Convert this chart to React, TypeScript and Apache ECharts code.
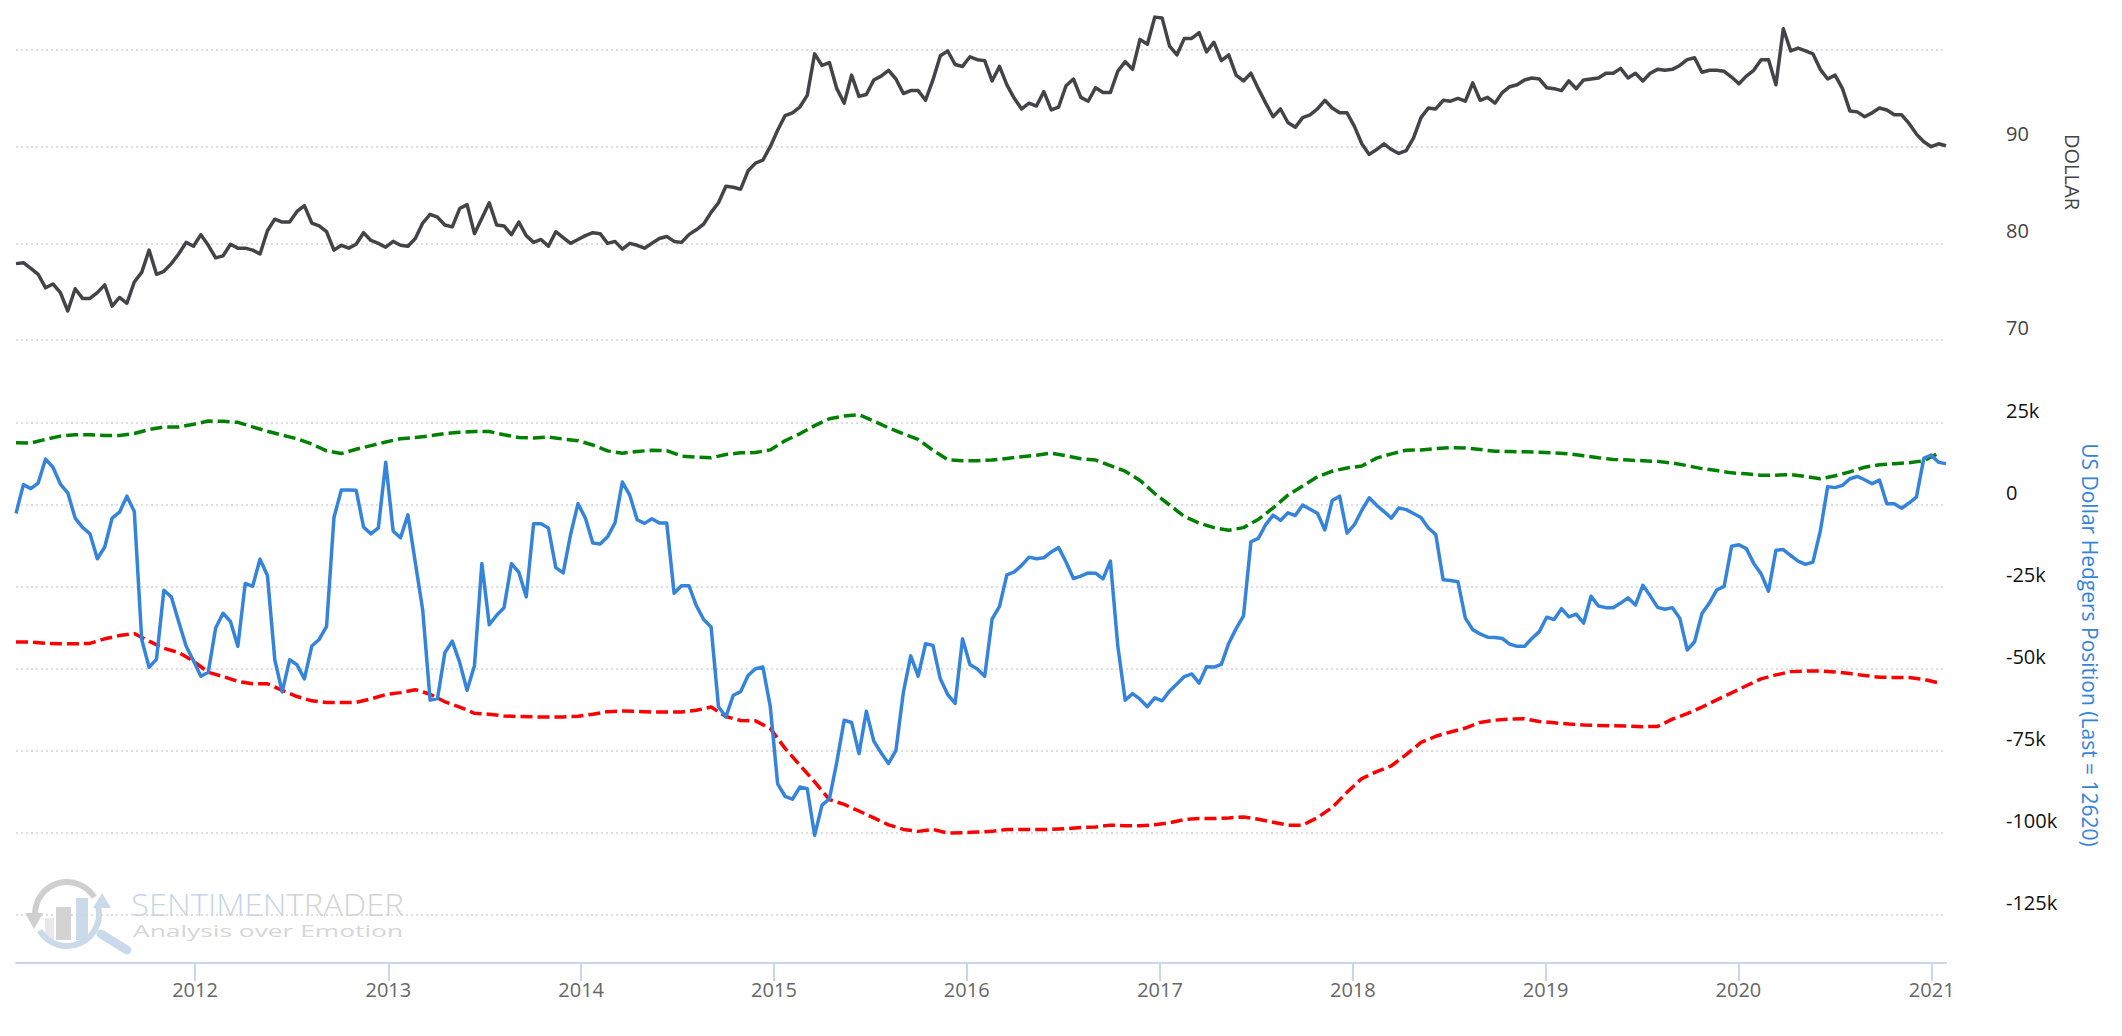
import React, { useEffect, useRef } from 'react'
import * as echarts from 'echarts'

// samples, first point on 27 Jan 2011
const START = Date.UTC(2011, 0, 27)
const DAY = 86400000
const STEP = 14 * DAY // dollar + hedgers: every two weeks
const BAND_STEP = 28 * DAY // the two dashed bands: every four weeks

const YEARS = [2012, 2013, 2014, 2015, 2016, 2017, 2018, 2019, 2020, 2021]

const DOLLAR = [
  77.9, 78.0, 77.4, 76.8, 75.4, 75.8, 74.9, 73.0, 75.3, 74.3,
  74.3, 74.9, 75.7, 73.5, 74.4, 73.8, 76.0, 77.0, 79.3, 76.8,
  77.1, 77.9, 78.9, 80.1, 79.7, 80.9, 79.8, 78.5, 78.7, 79.9,
  79.5, 79.5, 79.3, 78.9, 81.3, 82.5, 82.2, 82.2, 83.3, 83.9,
  82.1, 81.8, 81.2, 79.3, 79.8, 79.5, 79.9, 81.1, 80.3, 80.0,
  79.6, 80.2, 79.8, 79.7, 80.5, 82.1, 83.0, 82.7, 81.9, 81.7,
  83.6, 84.0, 81.0, 82.6, 84.2, 81.9, 81.8, 80.9, 82.2, 80.8,
  80.1, 80.4, 79.7, 81.2, 80.6, 80.0, 80.4, 80.8, 81.1, 81.0,
  80.0, 80.2, 79.4, 80.0, 79.8, 79.5, 80.0, 80.5,
  80.7, 80.2, 80.1, 80.9, 81.4, 82.0, 83.2, 84.2, 85.9, 85.8,
  85.6, 87.5, 88.3, 88.6, 90.0, 91.7, 93.2, 93.5, 94.1, 95.3,
  99.6, 98.4, 98.7, 96.0, 94.5, 97.4, 95.2, 95.4, 96.9, 97.3,
  97.9, 97.0, 95.5, 95.8, 95.8, 94.8, 96.9, 99.4, 99.9, 98.5,
  98.3, 99.3, 99.0, 98.9, 96.8, 98.3, 96.4, 95.0, 93.9, 94.5,
  94.2, 95.7, 93.8, 94.1, 96.3, 97.0, 95.1, 94.7, 96.1, 95.6,
  95.6, 97.8, 98.8, 98.0, 101.1, 100.6, 103.4, 103.3, 100.4, 99.5,
  101.2, 101.2, 101.8, 99.8, 100.8, 98.9, 99.5, 97.4, 96.8, 97.6,
  96.0, 94.5, 93.1, 93.9, 92.5, 92.0,
  93.0, 93.3, 93.9, 94.8, 94.0, 93.5, 93.5, 92.1, 90.3, 89.2,
  89.7, 90.3, 89.7, 89.3, 89.6, 90.9, 93.0, 94.0, 93.9, 94.8,
  94.7, 95.0, 94.7, 96.6, 94.8, 95.1, 94.5, 95.6, 96.2, 96.4,
  96.9, 97.1, 97.0, 96.1, 96.0, 95.8, 96.8, 96.0, 96.9, 97.0,
  97.1, 97.6, 97.6, 98.1, 97.1, 97.6, 96.8, 97.6, 98.0, 97.9,
  98.0, 98.4, 99.0, 99.2, 97.7, 97.9, 97.9, 97.8, 97.2, 96.5,
  97.3, 97.9, 99.0, 99.0, 96.4, 102.2, 99.9, 100.2, 99.9, 99.6,
  98.0, 97.0, 97.4, 96.0, 93.7, 93.6, 93.1, 93.5, 94.0, 93.8,
  93.3, 93.3, 92.4, 91.3, 90.5, 90.0, 90.3, 90.1,
]

// hedgers net position, thousands of contracts
const HEDGERS = [
  -2.6, 6.2, 5.0, 6.7, 14.0, 11.5, 6.4, 3.7, -4.0, -6.8,
  -8.8, -16.4, -12.8, -4.0, -2.2, 2.7, -2.0, -41.0, -49.5, -47.0,
  -26.0, -28.0, -35.6, -43.0, -47.5, -52.2, -51.0, -37.5, -33.0, -35.5,
  -43.1, -23.9, -24.8, -16.5, -21.5, -47.2, -57.0, -47.2, -48.7, -53.0,
  -43.0, -41.0, -37.0, -3.8, 4.6, 4.6, 4.5, -6.7, -8.8, -7.0,
  13.0, -7.9, -10.0, -3.0, -17.5, -32.0, -59.5, -59.0, -45.0, -41.5,
  -48.0, -56.5, -49.0, -17.8, -36.5, -33.6, -31.3, -17.9, -20.5, -28.0,
  -5.7, -5.7, -7.0, -19.1, -20.7, -9.0, 0.4, -4.0, -11.6, -11.9,
  -9.7, -5.5, 7.0, 3.0, -4.5, -5.6, -4.2, -5.5,
  -5.5, -26.9, -24.6, -24.6, -30.7, -34.9, -37.2, -61.5, -64.6, -58.0,
  -56.9, -52.0, -49.9, -49.4, -61.4, -85.0, -88.8, -89.7, -86.0, -86.5,
  -100.7, -91.5, -89.6, -78.4, -65.6, -66.3, -75.8, -62.9, -72.0, -75.6,
  -78.8, -74.8, -57.1, -46.0, -52.2, -42.3, -42.8, -53.0, -57.8, -60.5,
  -40.8, -48.6, -50.0, -52.2, -34.8, -30.9, -21.3, -20.4, -18.4, -15.9,
  -16.4, -16.1, -14.3, -13.0, -17.4, -22.4, -21.7, -20.7, -20.8, -22.5,
  -17.1, -43.0, -59.5, -57.5, -59.2, -61.5, -58.8, -59.7, -56.7, -54.6,
  -52.3, -51.5, -54.3, -49.3, -49.4, -48.6, -42.2, -37.7, -33.8, -11.2,
  -10.2, -6.0, -3.1, -4.7, -2.4, -3.2,
  0.0, -1.3, -2.5, -7.6, 1.4, 2.7, -8.6, -6.0, -1.6, 2.2,
  -0.1, -2.0, -4.0, -0.9, -1.4, -2.6, -3.8, -7.0, -9.0, -22.8,
  -23.0, -23.4, -34.5, -38.0, -39.3, -40.3, -40.4, -40.7, -42.4, -43.1,
  -43.1, -40.7, -38.6, -34.2, -34.9, -31.6, -34.1, -33.3, -36.0, -27.8,
  -30.8, -31.3, -31.3, -29.9, -28.3, -30.5, -24.5, -27.7, -31.2, -31.8,
  -31.3, -34.5, -44.2, -41.7, -33.1, -29.9, -25.9, -24.8, -12.6, -12.1,
  -13.3, -17.8, -21.0, -26.3, -13.8, -13.6, -15.4, -17.1, -18.1, -17.4,
  -8.0, 5.6, 5.3, 6.0, 8.0, 8.7, 7.7, 6.5, 7.6, 0.4,
  0.4, -1.0, 0.6, 2.4, 14.2, 15.2, 13.0, 12.62,
]

const UPPER_BAND = [
  19.0, 18.9, 20.0, 21.0, 21.4, 21.4, 21.2, 21.2, 21.8, 23.0,
  23.8, 23.8, 24.6, 25.6, 25.5, 25.2, 23.8, 22.5, 21.3, 20.2,
  18.6, 16.5, 15.7, 17.0, 18.1, 19.2, 20.2, 20.6, 21.1, 21.8,
  22.2, 22.4, 22.4, 21.4, 20.6, 20.4, 20.7, 20.1, 19.6, 18.3,
  16.5, 15.8, 16.3, 16.7,
  16.6, 14.9, 14.6, 14.4, 15.4, 15.9, 16.0, 16.8, 19.6, 21.7,
  24.2, 26.3, 27.1, 27.5, 25.6, 23.5, 21.7, 20.0, 16.7, 13.8,
  13.5, 13.5, 13.7, 14.2, 14.7, 15.2, 15.8, 15.0, 14.1, 13.7,
  12.0, 10.3, 7.5, 3.5, 0.0, -3.5, -5.5, -6.9, -7.7, -6.9,
  -4.4, -0.9, 3.0,
  5.8, 8.6, 10.3, 11.3, 11.9, 14.3, 15.6, 16.7, 16.8, 17.2,
  17.5, 17.4, 16.9, 16.4, 16.3, 16.2, 16.1, 15.9, 15.6, 15.0,
  14.4, 13.9, 13.7, 13.5, 13.3, 12.8, 12.0, 11.1, 10.5, 9.8,
  9.5, 9.1, 9.1, 9.3, 8.7, 8.0, 8.9, 10.1, 11.5, 12.3,
  12.6, 12.9, 13.5, 15.8,
]

const LOWER_BAND = [
  -41.8, -41.8, -42.2, -42.3, -42.3, -42.2, -40.8, -39.8, -39.2, -41.5,
  -43.7, -45.0, -47.6, -51.0, -52.3, -53.8, -54.5, -54.5, -56.5, -58.4,
  -59.7, -60.2, -60.2, -60.2, -59.1, -57.8, -57.2, -56.3, -57.7, -60.0,
  -61.6, -63.5, -63.8, -64.3, -64.5, -64.6, -64.6, -64.6, -64.4, -63.8,
  -63.0, -62.8, -62.9, -63.1,
  -63.1, -63.1, -62.6, -61.6, -64.5, -65.7, -65.8, -68.1, -74.2, -79.3,
  -84.4, -89.8, -91.3, -93.3, -95.4, -97.5, -98.9, -99.5, -98.9, -100.0,
  -99.9, -99.7, -99.5, -98.9, -98.9, -98.9, -98.9, -98.7, -98.3, -98.2,
  -97.6, -97.8, -97.8, -97.5, -96.9, -95.9, -95.6, -95.6, -95.4, -95.1,
  -95.8, -96.7, -97.6,
  -97.6, -95.3, -92.2, -87.6, -83.4, -81.3, -79.5, -76.1, -72.4, -70.5,
  -69.2, -68.0, -66.3, -65.6, -65.3, -65.2, -66.0, -66.4, -66.8, -67.1,
  -67.2, -67.3, -67.4, -67.6, -67.5, -65.3, -63.6, -61.6, -59.4, -57.3,
  -55.1, -53.0, -51.8, -50.8, -50.6, -50.6, -50.9, -51.4, -52.0, -52.5,
  -52.6, -52.6, -53.2, -54.2,
]

const FONT = '"Open Sans", sans-serif'
const END = START + (DOLLAR.length - 1) * STEP
const YEAR_TICKS = YEARS.map((y) => Date.UTC(y, 0, 1))
const BLUE = '#3584db'
const LINE_W = 3.5

const toPoints = (vals: number[], step: number, scale = 1) =>
  vals.map((v, i) => [START + i * step, v * scale])

const gridLines = {
  show: true,
  lineStyle: { color: '#d4d4d4', type: [2, 3], width: 1.5 },
}

const buildOption = () => ({
  animation: false,
  textStyle: { fontFamily: FONT },
  grid: [
    { left: 16, top: 50, width: 1930, height: 290 },
    { left: 16, top: 423, width: 1930, height: 492 },
  ],
  xAxis: [
    { type: 'value', gridIndex: 0, min: START, max: END, show: false },
    {
      type: 'value',
      gridIndex: 1,
      min: START,
      max: END,
      offset: 48,
      axisLine: { onZero: false, lineStyle: { color: '#ccd6eb', width: 2 } },
      axisTick: { length: 18, customValues: YEAR_TICKS, lineStyle: { color: '#ccd6eb', width: 2 } },
      axisLabel: {
        customValues: YEAR_TICKS,
        formatter: (v: number) => String(new Date(v).getUTCFullYear()),
        color: '#666666',
        fontSize: 20,
        fontFamily: FONT,
        margin: 16,
      },
      splitLine: { show: false },
    },
  ],
  yAxis: [
    {
      type: 'value',
      gridIndex: 0,
      position: 'right',
      min: 70,
      max: 100,
      interval: 10,
      axisLine: { show: false },
      axisTick: { show: false },
      axisLabel: {
        color: '#444444',
        fontSize: 20,
        fontFamily: FONT,
        margin: 60,
        verticalAlign: 'bottom',
        padding: [0, 0, 3, 0],
        showMaxLabel: false,
      },
      splitLine: gridLines,
    },
    {
      type: 'value',
      gridIndex: 1,
      position: 'right',
      min: -125000,
      max: 25000,
      interval: 25000,
      axisLine: { show: false },
      axisTick: { show: false },
      axisLabel: {
        color: '#111111',
        fontSize: 20,
        fontFamily: FONT,
        margin: 60,
        verticalAlign: 'bottom',
        padding: [0, 0, 3, 0],
        formatter: (v: number) => (v === 0 ? '0' : `${v / 1000}k`),
      },
      splitLine: gridLines,
    },
  ],
  series: [
    {
      name: 'DOLLAR',
      type: 'line',
      xAxisIndex: 0,
      yAxisIndex: 0,
      data: toPoints(DOLLAR, STEP),
      symbol: 'none',
      clip: false,
      lineStyle: { color: '#434348', width: LINE_W, join: 'round' },
      itemStyle: { color: '#434348' },
    },
    {
      name: 'Upper',
      type: 'line',
      xAxisIndex: 1,
      yAxisIndex: 1,
      data: toPoints(UPPER_BAND, BAND_STEP, 1000),
      symbol: 'none',
      clip: false,
      lineStyle: { color: '#008000', width: LINE_W, type: [12, 5] },
      itemStyle: { color: '#008000' },
    },
    {
      name: 'Lower',
      type: 'line',
      xAxisIndex: 1,
      yAxisIndex: 1,
      data: toPoints(LOWER_BAND, BAND_STEP, 1000),
      symbol: 'none',
      clip: false,
      lineStyle: { color: '#ff0000', width: LINE_W, type: [12, 5] },
      itemStyle: { color: '#ff0000' },
    },
    {
      name: 'US Dollar Hedgers Position',
      type: 'line',
      xAxisIndex: 1,
      yAxisIndex: 1,
      data: toPoints(HEDGERS, STEP, 1000),
      symbol: 'none',
      clip: false,
      lineStyle: { color: BLUE, width: LINE_W, join: 'round' },
      itemStyle: { color: BLUE },
    },
  ],
  graphic: [
    // watermark logo
    {
      type: 'group',
      silent: true,
      z: 0,
      children: [
        { type: 'rect', shape: { x: 45, y: 918, width: 9, height: 22 }, style: { fill: '#e8e8e8' } },
        { type: 'rect', shape: { x: 56, y: 907, width: 15, height: 33 }, style: { fill: '#d3d3d3' } },
        { type: 'rect', shape: { x: 76, y: 898, width: 12, height: 42 }, style: { fill: '#cbdaea' } },
        {
          type: 'arc',
          shape: { cx: 67, cy: 914, r: 32, startAngle: Math.PI, endAngle: Math.PI * 2 - 0.55, clockwise: true },
          style: { stroke: '#cfcfcf', lineWidth: 6, fill: 'none' },
        },
        {
          type: 'arc',
          shape: { cx: 67, cy: 914, r: 32, startAngle: -0.3, endAngle: 2.6, clockwise: true },
          style: { stroke: '#cbdaea', lineWidth: 6, fill: 'none' },
        },
        { type: 'polygon', shape: { points: [[25, 913], [43, 913], [34, 929]] }, style: { fill: '#cfcfcf' } },
        { type: 'polygon', shape: { points: [[93, 908], [111, 908], [102, 893]] }, style: { fill: '#cbdaea' } },
        {
          type: 'line',
          shape: { x1: 101, y1: 934, x2: 127, y2: 950 },
          style: { stroke: '#cbdaea', lineWidth: 9, lineCap: 'round' },
        },
        {
          type: 'text',
          x: 131,
          y: 904,
          scaleX: 1.06,
          style: {
            text: '{a|SENTIMEN}{b|TRADER}',
            font: `300 31px ${FONT}`,
            verticalAlign: 'middle',
            textVerticalAlign: 'middle',
            rich: {
              a: { fill: '#c6d6e9', color: '#c6d6e9', font: `300 31px ${FONT}` },
              b: { fill: '#d3d3d3', color: '#d3d3d3', font: `300 31px ${FONT}` },
            },
          },
        },
        {
          type: 'text',
          x: 133,
          y: 930,
          scaleX: 1.55,
          style: {
            text: 'Analysis over Emotion',
            font: `17px ${FONT}`,
            fill: '#d6d6d6',
            verticalAlign: 'middle',
            textVerticalAlign: 'middle',
          },
        },
      ],
    },
    // axis titles
    {
      type: 'text',
      x: 2072,
      y: 172,
      rotation: -Math.PI / 2,
      silent: true,
      style: {
        text: 'DOLLAR',
        font: `20px ${FONT}`,
        fill: '#444444',
        align: 'center',
        verticalAlign: 'middle',
        textAlign: 'center',
        textVerticalAlign: 'middle',
      },
    },
    {
      type: 'text',
      x: 2090,
      y: 645,
      rotation: -Math.PI / 2,
      silent: true,
      style: {
        text: 'US Dollar Hedgers Position (Last = 12620)',
        font: `21px ${FONT}`,
        fill: BLUE,
        align: 'center',
        verticalAlign: 'middle',
        textAlign: 'center',
        textVerticalAlign: 'middle',
      },
    },
  ],
})

export default function App() {
  const chartRef = useRef<HTMLDivElement>(null)

  useEffect(() => {
    document.body.style.margin = '0'
    if (!chartRef.current) return
    const chart = echarts.init(chartRef.current, null, { renderer: 'svg' })
    chart.setOption(buildOption())
    return () => {
      chart.dispose()
    }
  }, [])

  return <div ref={chartRef} style={{ width: 2122, height: 1036, background: '#ffffff' }} />
}
